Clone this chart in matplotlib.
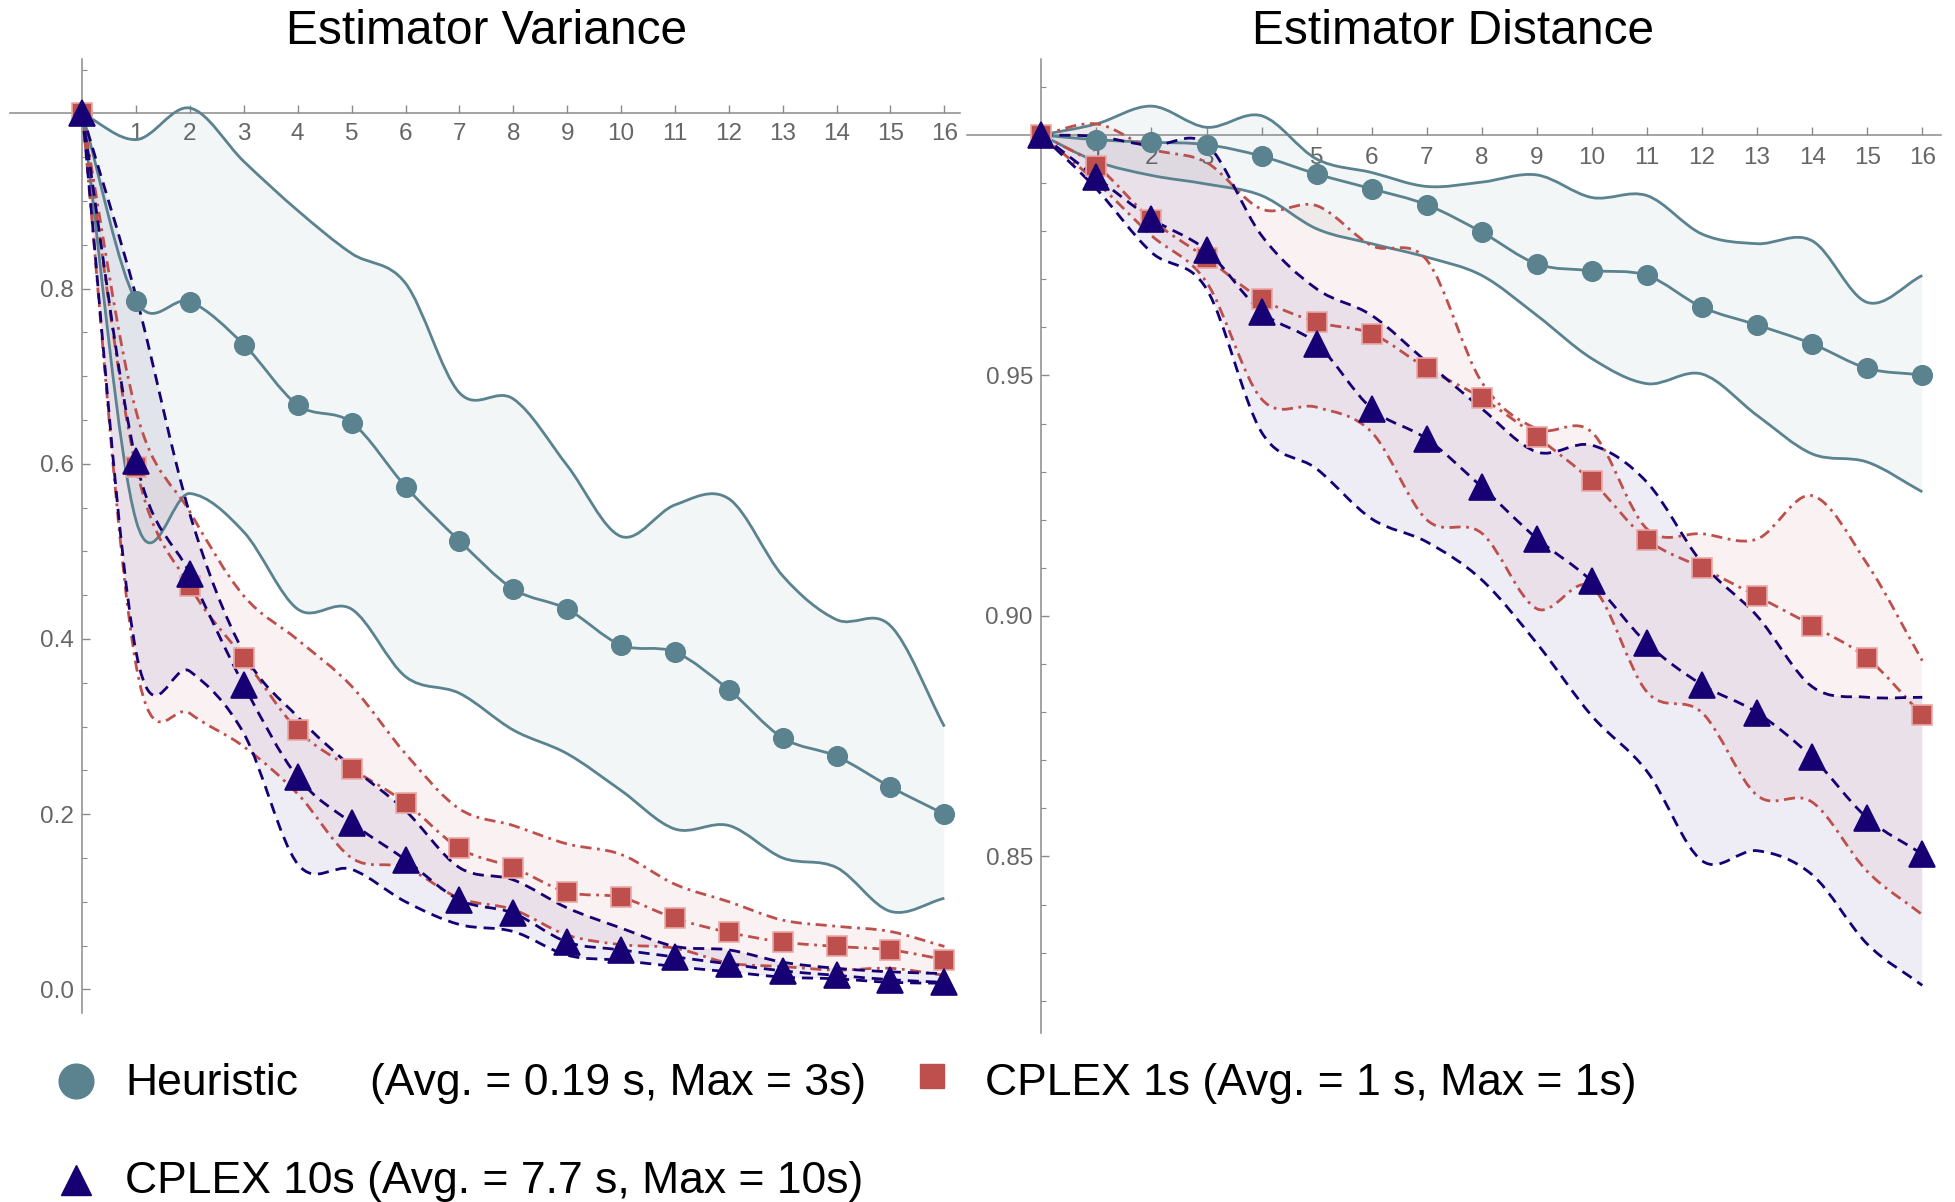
import numpy as np
import matplotlib
matplotlib.use("Agg")
import matplotlib.pyplot as plt
from matplotlib.path import Path
from matplotlib.patches import PathPatch
from matplotlib.lines import Line2D

plt.rcParams['font.family'] = ['Liberation Sans', 'DejaVu Sans']

steps = list(range(17))

# Estimator Variance (left)
var_heur = [1.0, 0.786, 0.785, 0.736, 0.667, 0.647, 0.574, 0.512, 0.457, 0.434, 0.393,
            0.385, 0.342, 0.287, 0.266, 0.231, 0.200]
var_heur_hi = [1.0, 0.970, 1.006, 0.945, 0.889, 0.840, 0.806, 0.681, 0.674, 0.598, 0.517,
               0.553, 0.560, 0.472, 0.422, 0.415, 0.300]
var_heur_lo = [1.0, 0.535, 0.566, 0.522, 0.434, 0.434, 0.357, 0.338, 0.296, 0.269, 0.227,
               0.183, 0.187, 0.150, 0.139, 0.089, 0.104]
var_c1 = [1.0, 0.596, 0.460, 0.378, 0.296, 0.252, 0.213, 0.161, 0.139, 0.111, 0.105,
          0.081, 0.065, 0.054, 0.049, 0.045, 0.034]
var_c1_hi = [1.0, 0.660, 0.545, 0.449, 0.399, 0.346, 0.269, 0.206, 0.187, 0.166, 0.154,
             0.120, 0.100, 0.079, 0.072, 0.066, 0.049]
var_c1_lo = [1.0, 0.370, 0.315, 0.277, 0.223, 0.150, 0.139, 0.104, 0.091, 0.062, 0.051,
             0.047, 0.030, 0.026, 0.022, 0.024, 0.016]
var_c10 = [1.0, 0.603, 0.474, 0.347, 0.242, 0.190, 0.148, 0.102, 0.087, 0.054, 0.045,
           0.037, 0.029, 0.021, 0.016, 0.011, 0.008]
var_c10_hi = [1.0, 0.791, 0.542, 0.384, 0.311, 0.254, 0.204, 0.139, 0.125, 0.093, 0.070,
              0.049, 0.045, 0.031, 0.024, 0.020, 0.018]
var_c10_lo = [1.0, 0.385, 0.363, 0.292, 0.143, 0.137, 0.100, 0.074, 0.066, 0.039, 0.033,
              0.026, 0.020, 0.014, 0.012, 0.008, 0.007]

# Estimator Distance (right)
dist_heur = [1.0, 0.999, 0.9985, 0.998, 0.9956, 0.9919, 0.9888, 0.9855, 0.9798, 0.9732,
             0.9718, 0.9708, 0.9642, 0.9605, 0.9566, 0.9515, 0.9501]
dist_heur_hi = [1.0, 1.0023, 1.0060, 1.0016, 1.0040, 0.9950, 0.9922, 0.9893, 0.9902, 0.9917,
                0.9870, 0.9874, 0.9794, 0.9774, 0.9780, 0.9652, 0.9708]
dist_heur_lo = [1.0, 0.9945, 0.9916, 0.9898, 0.9874, 0.9805, 0.9774, 0.9746, 0.9708, 0.9625,
                0.9535, 0.9483, 0.9503, 0.9417, 0.9337, 0.9320, 0.9258]
dist_c1 = [1.0, 0.9936, 0.9824, 0.9744, 0.9659, 0.9611, 0.9587, 0.9515, 0.9453, 0.9372,
           0.9280, 0.9159, 0.9100, 0.9041, 0.8980, 0.8912, 0.8794]
dist_c1_hi = [1.0, 1.0023, 0.9971, 0.9943, 0.9846, 0.9853, 0.9770, 0.9740, 0.9486, 0.9389,
              0.9382, 0.9181, 0.9171, 0.9160, 0.9250, 0.9108, 0.8907]
dist_c1_lo = [1.0, 0.9902, 0.9791, 0.9694, 0.9451, 0.9434, 0.9382, 0.9200, 0.9172, 0.9015,
              0.9060, 0.8842, 0.8799, 0.8627, 0.8613, 0.8469, 0.8379]
dist_c10 = [1.0, 0.9912, 0.9826, 0.9760, 0.9632, 0.9566, 0.9431, 0.9368, 0.9268, 0.9161,
            0.9072, 0.8943, 0.8857, 0.8799, 0.8706, 0.8580, 0.8505]
dist_c10_hi = [1.0, 0.9997, 0.9978, 0.9981, 0.9791, 0.9680, 0.9625, 0.9528, 0.9431, 0.9341,
               0.9355, 0.9278, 0.9110, 0.9000, 0.8853, 0.8831, 0.8831]
dist_c10_lo = [1.0, 0.9888, 0.9756, 0.9680, 0.9382, 0.9306, 0.9202, 0.9154, 0.9075, 0.8943,
               0.8792, 0.8677, 0.8491, 0.8512, 0.8462, 0.8318, 0.8232]

var_yticks = [0.0, 0.2, 0.4, 0.6, 0.8]
var_ylabels = ["0.0", "0.2", "0.4", "0.6", "0.8"]
dist_yticks = [0.85, 0.90, 0.95]
dist_ylabels = ["0.85", "0.90", "0.95"]

titles = ["Estimator Variance", "Estimator Distance"]
legend_labels = ["Heuristic", "(Avg. = 0.19 s, Max = 3s)",
                 "CPLEX 1s (Avg. = 1 s, Max = 1s)",
                 "CPLEX 10s (Avg. = 7.7 s, Max = 10s)"]

teal = "#5a828f"
red = "#bd4f4c"
navy = "#170073"

W, H = 1956, 1202


def fx(px):
    return px / W


def fy(py):
    return 1 - py / H


def smooth(x, y):
    # catmull-rom through the points, as cubic bezier segments
    p = np.column_stack([x, y]).astype(float)
    ext = np.vstack([2 * p[0] - p[1], p, 2 * p[-1] - p[-2]])
    verts = [p[0]]
    codes = [Path.MOVETO]
    for i in range(1, len(ext) - 2):
        p0, p1, p2, p3 = ext[i - 1], ext[i], ext[i + 1], ext[i + 2]
        verts += [p1 + (p2 - p0) / 6, p2 - (p3 - p1) / 6, p2]
        codes += [Path.CURVE4] * 3
    return verts, codes


def draw_series(ax, lo, mid, hi, color, fill, ls, marker, ms, mec, z):
    v1, c1 = smooth(steps, hi)
    v2, c2 = smooth(steps[::-1], lo[::-1])
    c2[0] = Path.LINETO
    band = Path(v1 + v2 + [v1[0]], c1 + c2 + [Path.CLOSEPOLY])
    ax.add_patch(PathPatch(band, facecolor=fill, alpha=0.07, lw=0, zorder=1))
    for arr in (lo, mid, hi):
        v, c = smooth(steps, arr)
        ax.add_patch(PathPatch(Path(v, c), fill=False, edgecolor=color, lw=2.0,
                               linestyle=ls, zorder=z))
    ax.plot(steps, mid, ls='none', marker=marker, ms=ms, color=color, mec=mec,
            mew=1.2, zorder=z + 3, clip_on=False)


def style_axes(ax, xlim, ylim, yticks, ylabels, minor, xpad):
    ax.set_xlim(*xlim)
    ax.set_ylim(*ylim)
    for s in ['top', 'right']:
        ax.spines[s].set_visible(False)
    ax.spines['left'].set_position(('data', 0))
    ax.spines['bottom'].set_position(('data', 1.0))
    for s in ['left', 'bottom']:
        ax.spines[s].set_color('#8a8a8a')
        ax.spines[s].set_linewidth(1.1)
    ax.set_xticks(range(1, 17))
    ax.set_xticklabels([str(i) for i in range(1, 17)])
    ax.set_yticks(yticks)
    ax.set_yticklabels(ylabels)
    ax.set_yticks(minor, minor=True)
    ax.tick_params(axis='x', direction='in', length=6, width=1, color='#8a8a8a',
                   labelsize=17.5, labelcolor='#666666', pad=xpad)
    ax.tick_params(axis='y', which='major', direction='in', length=6, width=1,
                   color='#8a8a8a', labelsize=17.5, labelcolor='#666666', pad=6)
    ax.tick_params(axis='y', which='minor', direction='in', length=3.5, width=0.8,
                   color='#8a8a8a')
    ax.set_facecolor('none')


fig = plt.figure(figsize=(W / 100, H / 100), dpi=100)

ax1 = fig.add_axes([fx(10), fy(1013), fx(950), 954 / H])
ax2 = fig.add_axes([fx(967), fy(1033), fx(974), 974 / H])

ls_red = (0, (4, 2, 1, 2))
ls_blue = (0, (4, 2.5))
fill_teal = "#4d8a80"

draw_series(ax1, var_heur_lo, var_heur, var_heur_hi, teal, fill_teal, '-', 'o', 14, teal, 3)
draw_series(ax1, var_c1_lo, var_c1, var_c1_hi, red, red, ls_red, 's', 15, '#eaa9a7', 4)
draw_series(ax1, var_c10_lo, var_c10, var_c10_hi, navy, navy, ls_blue, '^', 19, navy, 5)

draw_series(ax2, dist_heur_lo, dist_heur, dist_heur_hi, teal, fill_teal, '-', 'o', 14, teal, 3)
draw_series(ax2, dist_c1_lo, dist_c1, dist_c1_hi, red, red, ls_red, 's', 15, '#eaa9a7', 4)
draw_series(ax2, dist_c10_lo, dist_c10, dist_c10_hi, navy, navy, ls_blue, '^', 19, navy, 5)

var_minor = [round(0.05 * i, 2) for i in range(0, 22) if i % 4 != 0]
dist_minor = [round(0.82 + 0.01 * i, 2) for i in range(0, 20) if (i + 2) % 5 != 0]
style_axes(ax1, (-1.34, 16.29), (-0.027, 1.062), var_yticks, var_ylabels, var_minor, 7)
style_axes(ax2, (-1.35, 16.34), (0.8133, 1.0158), dist_yticks, dist_ylabels, dist_minor, 9)

fig.text(fx(487), fy(31), titles[0], ha='center', va='center', fontsize=34.5)
fig.text(fx(1453), fy(31), titles[1], ha='center', va='center', fontsize=34.5)

# legend
fig.add_artist(Line2D([fx(76)], [fy(1081)], marker='o', ms=25, color=teal,
                      transform=fig.transFigure))
fig.add_artist(Line2D([fx(932)], [fy(1076)], marker='s', ms=17, color=red,
                      transform=fig.transFigure))
fig.add_artist(Line2D([fx(76)], [fy(1180)], marker='^', ms=21, color=navy,
                      transform=fig.transFigure))
fig.text(fx(125), fy(1095), legend_labels[0], fontsize=32, va='baseline')
fig.text(fx(370), fy(1095), legend_labels[1], fontsize=32, va='baseline')
fig.text(fx(985), fy(1095), legend_labels[2], fontsize=32, va='baseline')
fig.text(fx(125), fy(1193), legend_labels[3], fontsize=32, va='baseline')

fig.savefig("out.png", dpi=100)
